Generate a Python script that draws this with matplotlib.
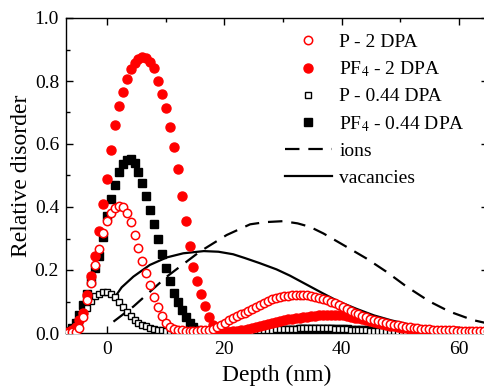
import numpy as np
import matplotlib
matplotlib.use("Agg")
import matplotlib.pyplot as plt
from matplotlib.ticker import MultipleLocator, FormatStrFormatter

# ---------------- data ----------------
depth = np.round(-6.7 + 0.67 * np.arange(108), 2)

p_2dpa = [0.001, 0.002, 0.004, 0.015, 0.05, 0.105, 0.16, 0.215, 0.268, 0.318,
          0.355, 0.382, 0.398, 0.403, 0.40, 0.38, 0.352, 0.31, 0.27, 0.23,
          0.19, 0.153, 0.115, 0.082, 0.053, 0.033, 0.02, 0.013, 0.009, 0.008,
          0.007, 0.007, 0.007, 0.007, 0.008, 0.009, 0.011, 0.014, 0.02, 0.026,
          0.033, 0.04, 0.047, 0.053, 0.059, 0.065, 0.071, 0.077, 0.083, 0.09,
          0.096, 0.102, 0.107, 0.111, 0.114, 0.117, 0.119, 0.12, 0.121, 0.121,
          0.121, 0.12, 0.118, 0.115, 0.112, 0.109, 0.105, 0.1, 0.094, 0.088,
          0.082, 0.076, 0.07, 0.065, 0.06, 0.055, 0.05, 0.046, 0.042, 0.038,
          0.035, 0.032, 0.029, 0.026, 0.024, 0.022, 0.02, 0.018, 0.016, 0.015,
          0.014, 0.013, 0.012, 0.011, 0.01, 0.009, 0.009, 0.008, 0.008, 0.007,
          0.007, 0.006, 0.006, 0.006, 0.005, 0.005, 0.005, 0.005]

pf4_2dpa = [0.003, 0.008, 0.02, 0.04, 0.065, 0.12, 0.18, 0.245, 0.325, 0.41,
            0.49, 0.58, 0.66, 0.72, 0.765, 0.805, 0.838, 0.858, 0.871, 0.876,
            0.872, 0.86, 0.84, 0.80, 0.76, 0.715, 0.655, 0.59, 0.52, 0.435,
            0.355, 0.275, 0.21, 0.165, 0.123, 0.085, 0.052, 0.026, 0.01, 0.004,
            0.003, 0.004, 0.005, 0.006, 0.008, 0.01, 0.012, 0.015, 0.018, 0.021,
            0.024, 0.027, 0.031, 0.034, 0.037, 0.040, 0.043, 0.045, 0.047, 0.049,
            0.051, 0.052, 0.054, 0.055, 0.056, 0.057, 0.058, 0.058, 0.058, 0.057,
            0.056, 0.054, 0.052, 0.049, 0.047, 0.044, 0.041, 0.038, 0.035, 0.032,
            0.029, 0.026, 0.023, 0.021, 0.019, 0.017, 0.015, 0.013, 0.012, 0.011,
            0.010, 0.009, 0.008, 0.007, 0.007, 0.006, 0.006, 0.005, 0.005, 0.005,
            0.004, 0.004, 0.004, 0.003, 0.003, 0.003, 0.002, 0.002]

p_044dpa = [0.002, 0.006, 0.015, 0.03, 0.055, 0.08, 0.103, 0.118, 0.125, 0.13,
            0.131, 0.123, 0.113, 0.1, 0.082, 0.067, 0.054, 0.042, 0.033, 0.026,
            0.021, 0.016, 0.012, 0.01, 0.008, 0.007, 0.006, 0.006, 0.005, 0.005,
            0.005, 0.004, 0.004, 0.004, 0.004, 0.004, 0.004, 0.004, 0.004, 0.004,
            0.004, 0.004, 0.004, 0.005, 0.005, 0.006, 0.007, 0.007, 0.008, 0.009,
            0.010, 0.010, 0.011, 0.012, 0.012, 0.013, 0.013, 0.014, 0.014, 0.015,
            0.015, 0.016, 0.016, 0.016, 0.016, 0.015, 0.015, 0.015, 0.014, 0.014,
            0.013, 0.012, 0.011, 0.010, 0.010, 0.009, 0.008, 0.007, 0.007, 0.006,
            0.006, 0.005, 0.005, 0.005, 0.004, 0.004, 0.004, 0.004, 0.003, 0.003,
            0.003, 0.003, 0.003, 0.003, 0.003, 0.002, 0.002, 0.002, 0.002, 0.002,
            0.002, 0.002, 0.002, 0.002, 0.002, 0.002, 0.002, 0.002]

pf4_044dpa = [0.005, 0.015, 0.032, 0.058, 0.09, 0.125, 0.165, 0.205, 0.245, 0.305,
              0.37, 0.425, 0.47, 0.512, 0.538, 0.55, 0.553, 0.54, 0.51, 0.475,
              0.435, 0.392, 0.345, 0.3, 0.25, 0.206, 0.164, 0.128, 0.098, 0.072,
              0.05, 0.032, 0.02, 0.011, 0.007, 0.005, 0.004, 0.004, 0.003, 0.003,
              0.003, 0.003, 0.003, 0.004, 0.004, 0.005, 0.005, 0.006, 0.006, 0.007,
              0.007, 0.008, 0.008, 0.009, 0.009, 0.010, 0.010, 0.011, 0.011, 0.012,
              0.012, 0.012, 0.013, 0.013, 0.013, 0.013, 0.013, 0.013, 0.013, 0.013,
              0.012, 0.012, 0.011, 0.011, 0.010, 0.009, 0.008, 0.007, 0.006, 0.006,
              0.005, 0.005, 0.004, 0.004, 0.003, 0.003, 0.003, 0.002, 0.002, 0.002,
              0.002, 0.002, 0.002, 0.001, 0.001, 0.001, 0.001, 0.001, 0.001, 0.001,
              0.001, 0.001, 0.001, 0.001, 0.001, 0.001, 0.001, 0.001]

ions_x = [1.1, 4.5, 10.2, 15.8, 20.4, 24.4, 27.0, 30.0, 32.5, 34.6, 36.9, 40.8,
          44.2, 47.6, 51.1, 55.0, 58.4, 62.4, 65.0]
ions_y = [0.036, 0.084, 0.179, 0.258, 0.311, 0.345, 0.352, 0.355, 0.348, 0.337,
          0.316, 0.274, 0.237, 0.195, 0.147, 0.10, 0.068, 0.041, 0.03]

vac_x = [1.2, 2.5, 4.5, 7.3, 10.2, 13.0, 16.5, 19.0, 21.5, 23.5, 26.0, 28.9,
         31.2, 34.0, 36.8, 39.5, 42.5, 45.5, 48.5, 51.5, 54.5, 57.5, 60.5, 65.0]
vac_y = [0.11, 0.145, 0.179, 0.216, 0.24, 0.253, 0.26, 0.258, 0.25, 0.238,
         0.222, 0.202, 0.182, 0.154, 0.126, 0.1, 0.077, 0.056, 0.04, 0.027,
         0.016, 0.009, 0.005, 0.003]

labels = ["P - 2 DPA", "PF$_4$ - 2 DPA", "P - 0.44 DPA", "PF$_4$ - 0.44 DPA",
          "ions", "vacancies"]

# ---------------- style ----------------
plt.rcParams['font.family'] = ['Liberation Serif', 'DejaVu Serif']
plt.rcParams['mathtext.fontset'] = 'stix'

W, H = 484, 389
fig = plt.figure(figsize=(W / 100, H / 100), dpi=100)
x0, x1 = -7.0, 65.0
px_per = 117.3 / 20.0
left_px = 107 - (0 - x0) * px_per
right_px = 107 + x1 * px_per
ax = fig.add_axes([left_px / W, (H - 333) / H, (right_px - left_px) / W, 315 / H])

red = '#FF0000'
l_vac, = ax.plot(vac_x, vac_y, '-', color='black', lw=1.6, zorder=1)
l_ion, = ax.plot(ions_x, ions_y, color='black', lw=1.6, dashes=(6.5, 4), zorder=1)
s4, = ax.plot(depth, pf4_044dpa, 's', ms=5.5, color='black', mec='black', zorder=2)
s3, = ax.plot(depth, p_044dpa, 's', ms=4.8, mfc='white', mec='black', mew=1.0, zorder=3)
s2, = ax.plot(depth, pf4_2dpa, 'o', ms=6.5, color=red, mec=red, zorder=4)
s1, = ax.plot(depth, p_2dpa, 'o', ms=6.0, mfc='white', mec=red, mew=1.1, zorder=5)

ax.set_xlim(x0, x1)
ax.set_ylim(0, 1.0)
ax.xaxis.set_major_locator(MultipleLocator(20))
ax.xaxis.set_minor_locator(MultipleLocator(10))
ax.yaxis.set_major_locator(MultipleLocator(0.2))
ax.yaxis.set_minor_locator(MultipleLocator(0.1))
ax.yaxis.set_major_formatter(FormatStrFormatter('%.1f'))
ax.tick_params(which='both', direction='in', top=True, right=True, labelsize=14,
               width=1.0)
ax.tick_params(which='major', length=5)
ax.tick_params(which='minor', length=3)
ax.tick_params(axis='x', pad=6)
ax.tick_params(axis='y', pad=5)
for sp in ax.spines.values():
    sp.set_linewidth(1.0)

ax.set_xlabel('Depth (nm)', fontsize=17, labelpad=5)
ax.set_ylabel('Relative disorder', fontsize=17, labelpad=2)

handles = [s1, s2, s3, s4, l_ion, l_vac]
leg = ax.legend(handles, labels, loc='upper left',
                bbox_to_anchor=((285 - left_px) / (right_px - left_px), (333 - 33) / 315),
                frameon=False, fontsize=14, handlelength=2.4, handletextpad=0.4,
                labelspacing=0.45, borderaxespad=0, borderpad=0, numpoints=1)
fig.savefig('out.png', dpi=100)
